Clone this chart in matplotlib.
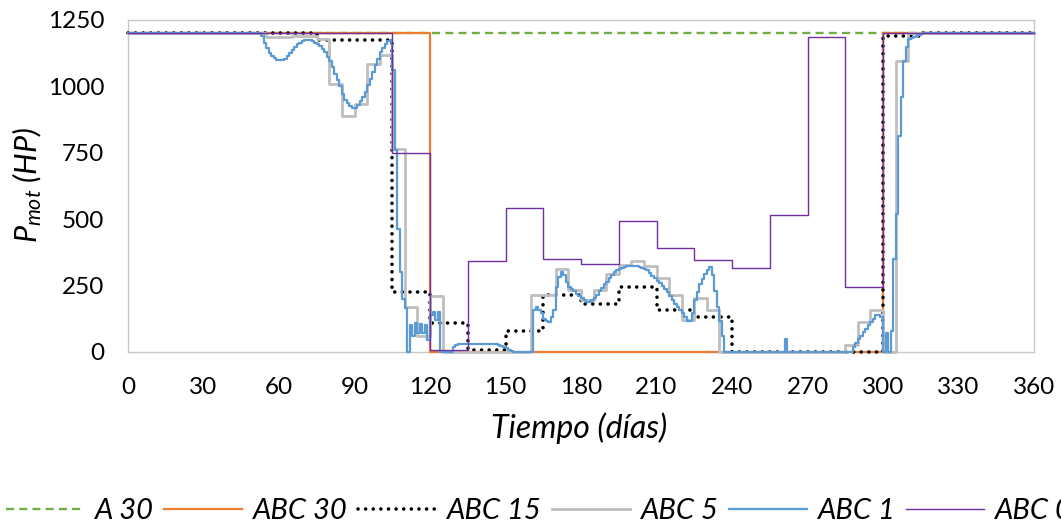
import matplotlib
matplotlib.use("Agg")
import matplotlib.pyplot as plt

plt.rcParams['font.family'] = ['Lato', 'DejaVu Sans']
plt.rcParams['mathtext.fontset'] = 'custom'
plt.rcParams['mathtext.it'] = 'Lato:italic'
plt.rcParams['mathtext.rm'] = 'Lato'

# ---- datos ----
x_ticks = [0, 30, 60, 90, 120, 150, 180, 210, 240, 270, 300, 330, 360]
y_ticks = [0, 250, 500, 750, 1000, 1250]

# A 30: constante
a30_dias = [0, 360]
a30_hp = [1200, 1200]

# ABC 30: escalones de 30 dias
abc30_hp = [1200, 1200, 1200, 1200, 0, 0, 0, 0, 0, 0, 1200, 1200]

# ABC 15: escalones de 15 dias
abc15_hp = [1200, 1200, 1200, 1200, 1200, 1174, 1174, 226, 108, 7, 79, 216,
            179, 245, 158, 133, 0, 0, 0, 0, 1190, 1200, 1200, 1200]

# ABC 5: escalones de 5 dias
abc5_hp = ([1200] * 11 +
           [1185, 1185, 1190, 1190, 1178, 1009, 890, 934, 1084, 1120,
            766, 168, 60, 210] +
           [0] * 7 +
           [214, 214, 314, 233, 195, 233, 295, 327, 343, 323, 279, 214, 120, 204, 158] +
           [0] * 10 +
           [25, 113, 158, 0, 1096] +
           [1200] * 10)

# ABC 1: escalones diarios (solo donde cambia)
abc1_dias = ([0] + list(range(53, 125)) +
             [129, 130, 131, 132, 141, 147, 148, 149, 150, 151, 152, 153] +
             list(range(161, 238)) + [261, 262] + list(range(288, 317)) + [360])
abc1_hp = ([1200] +
           [1190, 1165, 1143, 1125, 1113, 1106, 1101, 1099, 1100, 1105,
            1115, 1126, 1138, 1148, 1158, 1165, 1170, 1174, 1175, 1174,
            1170, 1165, 1160, 1152, 1142, 1128, 1112, 1096, 1072, 1046,
            1025, 1002, 972, 950, 937, 925, 918, 920, 930, 946,
            960, 980, 1005, 1027, 1055, 1080, 1105, 1128, 1145, 1160,
            1170, 1174,
            1060, 760, 464, 300, 200, 164, 0, 100, 60, 110,
            70, 105, 70, 100, 45, 140, 150, 120, 150, 0] +
           [20, 25, 30, 32, 30, 26, 24, 20, 14, 8, 3, 0] +
           [158, 170, 160, 145, 125, 115, 113, 130, 158, 245,
            282, 301, 290, 265, 245, 238, 230, 220, 210, 204,
            195, 189, 190, 196, 203, 215, 228, 242, 255, 264,
            277, 290, 300, 308, 314, 318, 321, 323, 324, 325,
            325, 323, 320, 316, 311, 308, 298, 288, 278, 268,
            258, 247, 236, 226, 210, 195, 180, 170, 158, 145,
            130, 117, 115, 145, 195, 225, 257, 275, 295, 310,
            320, 290, 230, 170, 115, 60, 0] +
           [50, 0] +
           [20, 35, 50, 62, 75, 88, 100, 112, 125, 140,
            140, 130, 0, 70, 0, 80, 351, 518, 814, 960,
            1096, 1150, 1178, 1184, 1186, 1190, 1193, 1196, 1200] +
           [1200])

# ABC 0: escalones de 15 dias
abc0_hp = [1200] * 7 + [751, 8, 343, 542, 352, 331, 494, 390, 345, 318, 515,
                         1186, 243] + [1200] * 4


def escalones(paso, valores):
    dias = [i * paso for i in range(len(valores) + 1)]
    return dias, valores + [valores[-1]]


fig = plt.figure(figsize=(10.61, 5.26), dpi=100)
ax = fig.add_axes([128 / 1061, 1 - 352 / 526, 906 / 1061, 332 / 526])

comun = dict(clip_on=False, zorder=3)
ax.plot(a30_dias, a30_hp, color='#70AD47', lw=1.7, linestyle=(0, (3.4, 2.2)),
        label='A 30', **comun)
d, v = escalones(30, abc30_hp)
ax.step(d, v, where='post', color='#ED7D31', lw=1.6, label='ABC 30', **comun)
d, v = escalones(15, abc15_hp)
ax.step(d, v, where='post', color='black', lw=2.6, linestyle=(0, (0.01, 2.1)),
        dash_capstyle='round', label='ABC 15', **comun)
d, v = escalones(5, abc5_hp)
ax.step(d, v, where='post', color='#BFBFBF', lw=2.0, label='ABC 5', **comun)
ax.step(abc1_dias, abc1_hp, where='post', color='#5B9BD5', lw=1.6, label='ABC 1',
        **comun)
d, v = escalones(15, abc0_hp)
ax.step(d, v, where='post', color='#7030A0', lw=1.0, label='ABC 0', **comun)

ax.set_xlim(0, 360)
ax.set_ylim(0, 1250)
ax.set_xticks(x_ticks)
ax.set_yticks(y_ticks)
ax.tick_params(length=0, labelsize=17.5, colors='black')
ax.tick_params(axis='x', pad=18)
ax.tick_params(axis='y', pad=17)
for s in ax.spines.values():
    s.set_color('#C8C8C8')
    s.set_linewidth(1.0)

fig.text(579 / 1061, 1 - 428 / 526, 'Tiempo (días)', fontsize=23, style='italic',
         ha='center', va='center')
fig.text(27 / 1061, 1 - 185 / 526, r'$P_{mot}$ (HP)', fontsize=22, style='italic',
         rotation=90, ha='center', va='center')

fig.legend(loc='center', bbox_to_anchor=(0.508, 1 - 511 / 526), ncol=6, frameon=False,
           prop={'size': 21, 'style': 'italic'}, handlelength=2.7,
           handletextpad=0.35, columnspacing=0.35)

fig.savefig('out.png', dpi=100)
